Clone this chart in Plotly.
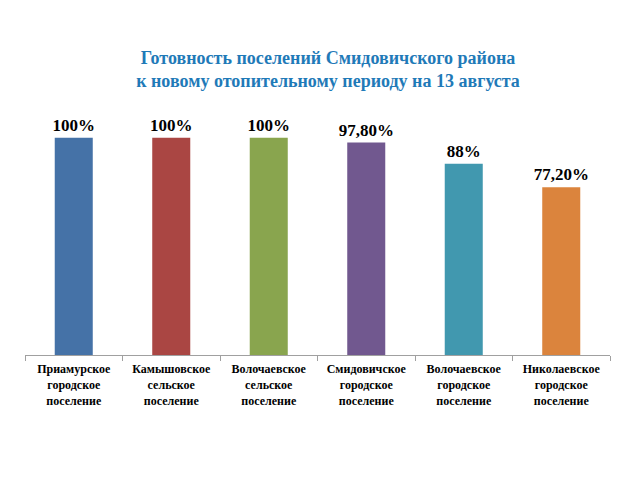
import plotly.graph_objects as go

categories = ["Приамурское<br>городское<br>поселение",
              "Камышовское<br>сельское<br>поселение",
              "Волочаевское<br>сельское<br>поселение",
              "Смидовичское<br>городское<br>поселение",
              "Волочаевское<br>городское<br>поселение",
              "Николаевское<br>городское<br>поселение"]
values = [1.0, 1.0, 1.0, 0.978, 0.88, 0.772]
labels = ["100%", "100%", "100%", "97,80%", "88%", "77,20%"]
colors = ["#4572A7", "#AA4643", "#89A54E", "#71588F", "#4198AF", "#DB843D"]

SERIF = "Liberation Serif, Times New Roman, serif"

fig = go.Figure(go.Bar(
    x=categories, y=values, marker_color=colors, marker_line_width=0,
    text=["<b>" + t + "</b>" for t in labels], textposition="outside", cliponaxis=False,
    constraintext="none",
    textfont=dict(family=SERIF, size=17, color="black"),
))
fig.update_layout(
    width=640, height=480,
    margin=dict(l=17, r=38, t=108, b=133),
    paper_bgcolor="white", plot_bgcolor="white",
    bargap=0.61, showlegend=False,
    title=dict(text="<b>Готовность поселений Смидовичского района<br>к новому отопительному периоду на 13 августа</b>",
               x=0.5, xanchor="center", y=0.884, yanchor="middle",
               font=dict(family=SERIF, size=18, color="#1F7AB8")),
)
fig.update_xaxes(showline=True, linecolor="#A0A0A0", linewidth=1,
                 ticks="outside", tickson="boundaries", ticklen=5, tickcolor="#A0A0A0",
                 tickangle=0, ticklabelstandoff=3,
                 tickfont=dict(family=SERIF, size=12, color="black"),
                 tickprefix="<b>", ticksuffix="</b>")
fig.update_yaxes(range=[0, 1.1], visible=False)
fig.write_html("out.html")
